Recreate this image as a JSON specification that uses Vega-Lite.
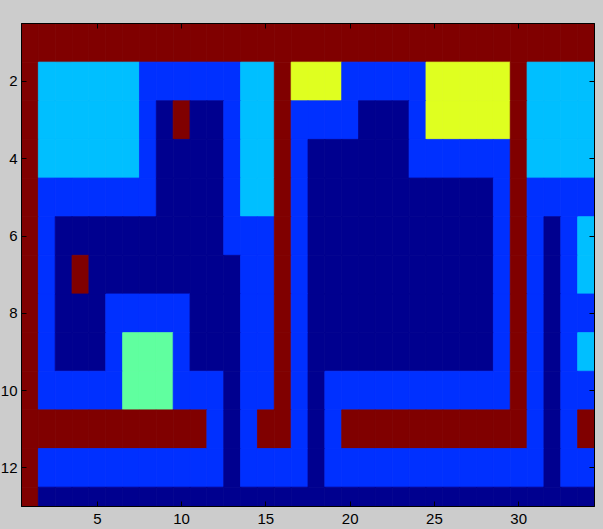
{
"$schema": "https://vega.github.io/schema/vega-lite/v6.json",
"width": 573, "height": 483,
"autosize": {"type": "none"},
"padding": {"left": 21, "top": 23, "right": 9, "bottom": 23},
"background": "#CCCCCC",
"config": {"view": {"stroke": "#000000", "strokeWidth": 1},
  "axis": {"title": null, "grid": false, "domain": true, "domainColor": "#000000", "tickColor": "#000000", "tickSize": -5, "labelFont": "Liberation Sans", "labelFontSize": 15, "labelColor": "#000000", "labelFlush": false, "labelOverlap": false}},
"data": {"values": [
{"r":1,"c":1,"v":"M"},{"r":1,"c":2,"v":"M"},{"r":1,"c":3,"v":"M"},{"r":1,"c":4,"v":"M"},{"r":1,"c":5,"v":"M"},{"r":1,"c":6,"v":"M"},{"r":1,"c":7,"v":"M"},{"r":1,"c":8,"v":"M"},{"r":1,"c":9,"v":"M"},{"r":1,"c":10,"v":"M"},{"r":1,"c":11,"v":"M"},{"r":1,"c":12,"v":"M"},{"r":1,"c":13,"v":"M"},{"r":1,"c":14,"v":"M"},{"r":1,"c":15,"v":"M"},{"r":1,"c":16,"v":"M"},{"r":1,"c":17,"v":"M"},{"r":1,"c":18,"v":"M"},{"r":1,"c":19,"v":"M"},{"r":1,"c":20,"v":"M"},{"r":1,"c":21,"v":"M"},{"r":1,"c":22,"v":"M"},{"r":1,"c":23,"v":"M"},{"r":1,"c":24,"v":"M"},{"r":1,"c":25,"v":"M"},{"r":1,"c":26,"v":"M"},{"r":1,"c":27,"v":"M"},{"r":1,"c":28,"v":"M"},{"r":1,"c":29,"v":"M"},{"r":1,"c":30,"v":"M"},{"r":1,"c":31,"v":"M"},{"r":1,"c":32,"v":"M"},{"r":1,"c":33,"v":"M"},{"r":1,"c":34,"v":"M"},
{"r":2,"c":1,"v":"M"},{"r":2,"c":2,"v":"C"},{"r":2,"c":3,"v":"C"},{"r":2,"c":4,"v":"C"},{"r":2,"c":5,"v":"C"},{"r":2,"c":6,"v":"C"},{"r":2,"c":7,"v":"C"},{"r":2,"c":8,"v":"B"},{"r":2,"c":9,"v":"B"},{"r":2,"c":10,"v":"B"},{"r":2,"c":11,"v":"B"},{"r":2,"c":12,"v":"B"},{"r":2,"c":13,"v":"B"},{"r":2,"c":14,"v":"C"},{"r":2,"c":15,"v":"C"},{"r":2,"c":16,"v":"M"},{"r":2,"c":17,"v":"Y"},{"r":2,"c":18,"v":"Y"},{"r":2,"c":19,"v":"Y"},{"r":2,"c":20,"v":"B"},{"r":2,"c":21,"v":"B"},{"r":2,"c":22,"v":"B"},{"r":2,"c":23,"v":"B"},{"r":2,"c":24,"v":"B"},{"r":2,"c":25,"v":"Y"},{"r":2,"c":26,"v":"Y"},{"r":2,"c":27,"v":"Y"},{"r":2,"c":28,"v":"Y"},{"r":2,"c":29,"v":"Y"},{"r":2,"c":30,"v":"M"},{"r":2,"c":31,"v":"C"},{"r":2,"c":32,"v":"C"},{"r":2,"c":33,"v":"C"},{"r":2,"c":34,"v":"C"},
{"r":3,"c":1,"v":"M"},{"r":3,"c":2,"v":"C"},{"r":3,"c":3,"v":"C"},{"r":3,"c":4,"v":"C"},{"r":3,"c":5,"v":"C"},{"r":3,"c":6,"v":"C"},{"r":3,"c":7,"v":"C"},{"r":3,"c":8,"v":"B"},{"r":3,"c":9,"v":"N"},{"r":3,"c":10,"v":"M"},{"r":3,"c":11,"v":"N"},{"r":3,"c":12,"v":"N"},{"r":3,"c":13,"v":"B"},{"r":3,"c":14,"v":"C"},{"r":3,"c":15,"v":"C"},{"r":3,"c":16,"v":"M"},{"r":3,"c":17,"v":"B"},{"r":3,"c":18,"v":"B"},{"r":3,"c":19,"v":"B"},{"r":3,"c":20,"v":"B"},{"r":3,"c":21,"v":"N"},{"r":3,"c":22,"v":"N"},{"r":3,"c":23,"v":"N"},{"r":3,"c":24,"v":"B"},{"r":3,"c":25,"v":"Y"},{"r":3,"c":26,"v":"Y"},{"r":3,"c":27,"v":"Y"},{"r":3,"c":28,"v":"Y"},{"r":3,"c":29,"v":"Y"},{"r":3,"c":30,"v":"M"},{"r":3,"c":31,"v":"C"},{"r":3,"c":32,"v":"C"},{"r":3,"c":33,"v":"C"},{"r":3,"c":34,"v":"C"},
{"r":4,"c":1,"v":"M"},{"r":4,"c":2,"v":"C"},{"r":4,"c":3,"v":"C"},{"r":4,"c":4,"v":"C"},{"r":4,"c":5,"v":"C"},{"r":4,"c":6,"v":"C"},{"r":4,"c":7,"v":"C"},{"r":4,"c":8,"v":"B"},{"r":4,"c":9,"v":"N"},{"r":4,"c":10,"v":"N"},{"r":4,"c":11,"v":"N"},{"r":4,"c":12,"v":"N"},{"r":4,"c":13,"v":"B"},{"r":4,"c":14,"v":"C"},{"r":4,"c":15,"v":"C"},{"r":4,"c":16,"v":"M"},{"r":4,"c":17,"v":"B"},{"r":4,"c":18,"v":"N"},{"r":4,"c":19,"v":"N"},{"r":4,"c":20,"v":"N"},{"r":4,"c":21,"v":"N"},{"r":4,"c":22,"v":"N"},{"r":4,"c":23,"v":"N"},{"r":4,"c":24,"v":"B"},{"r":4,"c":25,"v":"B"},{"r":4,"c":26,"v":"B"},{"r":4,"c":27,"v":"B"},{"r":4,"c":28,"v":"B"},{"r":4,"c":29,"v":"B"},{"r":4,"c":30,"v":"M"},{"r":4,"c":31,"v":"C"},{"r":4,"c":32,"v":"C"},{"r":4,"c":33,"v":"C"},{"r":4,"c":34,"v":"C"},
{"r":5,"c":1,"v":"M"},{"r":5,"c":2,"v":"B"},{"r":5,"c":3,"v":"B"},{"r":5,"c":4,"v":"B"},{"r":5,"c":5,"v":"B"},{"r":5,"c":6,"v":"B"},{"r":5,"c":7,"v":"B"},{"r":5,"c":8,"v":"B"},{"r":5,"c":9,"v":"N"},{"r":5,"c":10,"v":"N"},{"r":5,"c":11,"v":"N"},{"r":5,"c":12,"v":"N"},{"r":5,"c":13,"v":"B"},{"r":5,"c":14,"v":"C"},{"r":5,"c":15,"v":"C"},{"r":5,"c":16,"v":"M"},{"r":5,"c":17,"v":"B"},{"r":5,"c":18,"v":"N"},{"r":5,"c":19,"v":"N"},{"r":5,"c":20,"v":"N"},{"r":5,"c":21,"v":"N"},{"r":5,"c":22,"v":"N"},{"r":5,"c":23,"v":"N"},{"r":5,"c":24,"v":"N"},{"r":5,"c":25,"v":"N"},{"r":5,"c":26,"v":"N"},{"r":5,"c":27,"v":"N"},{"r":5,"c":28,"v":"N"},{"r":5,"c":29,"v":"B"},{"r":5,"c":30,"v":"M"},{"r":5,"c":31,"v":"B"},{"r":5,"c":32,"v":"B"},{"r":5,"c":33,"v":"B"},{"r":5,"c":34,"v":"B"},
{"r":6,"c":1,"v":"M"},{"r":6,"c":2,"v":"B"},{"r":6,"c":3,"v":"N"},{"r":6,"c":4,"v":"N"},{"r":6,"c":5,"v":"N"},{"r":6,"c":6,"v":"N"},{"r":6,"c":7,"v":"N"},{"r":6,"c":8,"v":"N"},{"r":6,"c":9,"v":"N"},{"r":6,"c":10,"v":"N"},{"r":6,"c":11,"v":"N"},{"r":6,"c":12,"v":"N"},{"r":6,"c":13,"v":"B"},{"r":6,"c":14,"v":"B"},{"r":6,"c":15,"v":"B"},{"r":6,"c":16,"v":"M"},{"r":6,"c":17,"v":"B"},{"r":6,"c":18,"v":"N"},{"r":6,"c":19,"v":"N"},{"r":6,"c":20,"v":"N"},{"r":6,"c":21,"v":"N"},{"r":6,"c":22,"v":"N"},{"r":6,"c":23,"v":"N"},{"r":6,"c":24,"v":"N"},{"r":6,"c":25,"v":"N"},{"r":6,"c":26,"v":"N"},{"r":6,"c":27,"v":"N"},{"r":6,"c":28,"v":"N"},{"r":6,"c":29,"v":"B"},{"r":6,"c":30,"v":"M"},{"r":6,"c":31,"v":"B"},{"r":6,"c":32,"v":"N"},{"r":6,"c":33,"v":"B"},{"r":6,"c":34,"v":"C"},
{"r":7,"c":1,"v":"M"},{"r":7,"c":2,"v":"B"},{"r":7,"c":3,"v":"N"},{"r":7,"c":4,"v":"M"},{"r":7,"c":5,"v":"N"},{"r":7,"c":6,"v":"N"},{"r":7,"c":7,"v":"N"},{"r":7,"c":8,"v":"N"},{"r":7,"c":9,"v":"N"},{"r":7,"c":10,"v":"N"},{"r":7,"c":11,"v":"N"},{"r":7,"c":12,"v":"N"},{"r":7,"c":13,"v":"N"},{"r":7,"c":14,"v":"B"},{"r":7,"c":15,"v":"B"},{"r":7,"c":16,"v":"M"},{"r":7,"c":17,"v":"B"},{"r":7,"c":18,"v":"N"},{"r":7,"c":19,"v":"N"},{"r":7,"c":20,"v":"N"},{"r":7,"c":21,"v":"N"},{"r":7,"c":22,"v":"N"},{"r":7,"c":23,"v":"N"},{"r":7,"c":24,"v":"N"},{"r":7,"c":25,"v":"N"},{"r":7,"c":26,"v":"N"},{"r":7,"c":27,"v":"N"},{"r":7,"c":28,"v":"N"},{"r":7,"c":29,"v":"B"},{"r":7,"c":30,"v":"M"},{"r":7,"c":31,"v":"B"},{"r":7,"c":32,"v":"N"},{"r":7,"c":33,"v":"B"},{"r":7,"c":34,"v":"C"},
{"r":8,"c":1,"v":"M"},{"r":8,"c":2,"v":"B"},{"r":8,"c":3,"v":"N"},{"r":8,"c":4,"v":"N"},{"r":8,"c":5,"v":"N"},{"r":8,"c":6,"v":"B"},{"r":8,"c":7,"v":"B"},{"r":8,"c":8,"v":"B"},{"r":8,"c":9,"v":"B"},{"r":8,"c":10,"v":"B"},{"r":8,"c":11,"v":"N"},{"r":8,"c":12,"v":"N"},{"r":8,"c":13,"v":"N"},{"r":8,"c":14,"v":"B"},{"r":8,"c":15,"v":"B"},{"r":8,"c":16,"v":"M"},{"r":8,"c":17,"v":"B"},{"r":8,"c":18,"v":"N"},{"r":8,"c":19,"v":"N"},{"r":8,"c":20,"v":"N"},{"r":8,"c":21,"v":"N"},{"r":8,"c":22,"v":"N"},{"r":8,"c":23,"v":"N"},{"r":8,"c":24,"v":"N"},{"r":8,"c":25,"v":"N"},{"r":8,"c":26,"v":"N"},{"r":8,"c":27,"v":"N"},{"r":8,"c":28,"v":"N"},{"r":8,"c":29,"v":"B"},{"r":8,"c":30,"v":"M"},{"r":8,"c":31,"v":"B"},{"r":8,"c":32,"v":"N"},{"r":8,"c":33,"v":"B"},{"r":8,"c":34,"v":"B"},
{"r":9,"c":1,"v":"M"},{"r":9,"c":2,"v":"B"},{"r":9,"c":3,"v":"N"},{"r":9,"c":4,"v":"N"},{"r":9,"c":5,"v":"N"},{"r":9,"c":6,"v":"B"},{"r":9,"c":7,"v":"G"},{"r":9,"c":8,"v":"G"},{"r":9,"c":9,"v":"G"},{"r":9,"c":10,"v":"B"},{"r":9,"c":11,"v":"N"},{"r":9,"c":12,"v":"N"},{"r":9,"c":13,"v":"N"},{"r":9,"c":14,"v":"B"},{"r":9,"c":15,"v":"B"},{"r":9,"c":16,"v":"M"},{"r":9,"c":17,"v":"B"},{"r":9,"c":18,"v":"N"},{"r":9,"c":19,"v":"N"},{"r":9,"c":20,"v":"N"},{"r":9,"c":21,"v":"N"},{"r":9,"c":22,"v":"N"},{"r":9,"c":23,"v":"N"},{"r":9,"c":24,"v":"N"},{"r":9,"c":25,"v":"N"},{"r":9,"c":26,"v":"N"},{"r":9,"c":27,"v":"N"},{"r":9,"c":28,"v":"N"},{"r":9,"c":29,"v":"B"},{"r":9,"c":30,"v":"M"},{"r":9,"c":31,"v":"B"},{"r":9,"c":32,"v":"N"},{"r":9,"c":33,"v":"B"},{"r":9,"c":34,"v":"C"},
{"r":10,"c":1,"v":"M"},{"r":10,"c":2,"v":"B"},{"r":10,"c":3,"v":"B"},{"r":10,"c":4,"v":"B"},{"r":10,"c":5,"v":"B"},{"r":10,"c":6,"v":"B"},{"r":10,"c":7,"v":"G"},{"r":10,"c":8,"v":"G"},{"r":10,"c":9,"v":"G"},{"r":10,"c":10,"v":"B"},{"r":10,"c":11,"v":"B"},{"r":10,"c":12,"v":"B"},{"r":10,"c":13,"v":"N"},{"r":10,"c":14,"v":"B"},{"r":10,"c":15,"v":"B"},{"r":10,"c":16,"v":"M"},{"r":10,"c":17,"v":"B"},{"r":10,"c":18,"v":"N"},{"r":10,"c":19,"v":"B"},{"r":10,"c":20,"v":"B"},{"r":10,"c":21,"v":"B"},{"r":10,"c":22,"v":"B"},{"r":10,"c":23,"v":"B"},{"r":10,"c":24,"v":"B"},{"r":10,"c":25,"v":"B"},{"r":10,"c":26,"v":"B"},{"r":10,"c":27,"v":"B"},{"r":10,"c":28,"v":"B"},{"r":10,"c":29,"v":"B"},{"r":10,"c":30,"v":"M"},{"r":10,"c":31,"v":"B"},{"r":10,"c":32,"v":"N"},{"r":10,"c":33,"v":"B"},{"r":10,"c":34,"v":"B"},
{"r":11,"c":1,"v":"M"},{"r":11,"c":2,"v":"M"},{"r":11,"c":3,"v":"M"},{"r":11,"c":4,"v":"M"},{"r":11,"c":5,"v":"M"},{"r":11,"c":6,"v":"M"},{"r":11,"c":7,"v":"M"},{"r":11,"c":8,"v":"M"},{"r":11,"c":9,"v":"M"},{"r":11,"c":10,"v":"M"},{"r":11,"c":11,"v":"M"},{"r":11,"c":12,"v":"B"},{"r":11,"c":13,"v":"N"},{"r":11,"c":14,"v":"B"},{"r":11,"c":15,"v":"M"},{"r":11,"c":16,"v":"M"},{"r":11,"c":17,"v":"B"},{"r":11,"c":18,"v":"N"},{"r":11,"c":19,"v":"B"},{"r":11,"c":20,"v":"M"},{"r":11,"c":21,"v":"M"},{"r":11,"c":22,"v":"M"},{"r":11,"c":23,"v":"M"},{"r":11,"c":24,"v":"M"},{"r":11,"c":25,"v":"M"},{"r":11,"c":26,"v":"M"},{"r":11,"c":27,"v":"M"},{"r":11,"c":28,"v":"M"},{"r":11,"c":29,"v":"M"},{"r":11,"c":30,"v":"M"},{"r":11,"c":31,"v":"B"},{"r":11,"c":32,"v":"N"},{"r":11,"c":33,"v":"B"},{"r":11,"c":34,"v":"M"},
{"r":12,"c":1,"v":"M"},{"r":12,"c":2,"v":"B"},{"r":12,"c":3,"v":"B"},{"r":12,"c":4,"v":"B"},{"r":12,"c":5,"v":"B"},{"r":12,"c":6,"v":"B"},{"r":12,"c":7,"v":"B"},{"r":12,"c":8,"v":"B"},{"r":12,"c":9,"v":"B"},{"r":12,"c":10,"v":"B"},{"r":12,"c":11,"v":"B"},{"r":12,"c":12,"v":"B"},{"r":12,"c":13,"v":"N"},{"r":12,"c":14,"v":"B"},{"r":12,"c":15,"v":"B"},{"r":12,"c":16,"v":"B"},{"r":12,"c":17,"v":"B"},{"r":12,"c":18,"v":"N"},{"r":12,"c":19,"v":"B"},{"r":12,"c":20,"v":"B"},{"r":12,"c":21,"v":"B"},{"r":12,"c":22,"v":"B"},{"r":12,"c":23,"v":"B"},{"r":12,"c":24,"v":"B"},{"r":12,"c":25,"v":"B"},{"r":12,"c":26,"v":"B"},{"r":12,"c":27,"v":"B"},{"r":12,"c":28,"v":"B"},{"r":12,"c":29,"v":"B"},{"r":12,"c":30,"v":"B"},{"r":12,"c":31,"v":"B"},{"r":12,"c":32,"v":"N"},{"r":12,"c":33,"v":"B"},{"r":12,"c":34,"v":"B"},
{"r":13,"c":1,"v":"M"},{"r":13,"c":2,"v":"N"},{"r":13,"c":3,"v":"N"},{"r":13,"c":4,"v":"N"},{"r":13,"c":5,"v":"N"},{"r":13,"c":6,"v":"N"},{"r":13,"c":7,"v":"N"},{"r":13,"c":8,"v":"N"},{"r":13,"c":9,"v":"N"},{"r":13,"c":10,"v":"N"},{"r":13,"c":11,"v":"N"},{"r":13,"c":12,"v":"N"},{"r":13,"c":13,"v":"N"},{"r":13,"c":14,"v":"N"},{"r":13,"c":15,"v":"N"},{"r":13,"c":16,"v":"N"},{"r":13,"c":17,"v":"N"},{"r":13,"c":18,"v":"N"},{"r":13,"c":19,"v":"N"},{"r":13,"c":20,"v":"N"},{"r":13,"c":21,"v":"N"},{"r":13,"c":22,"v":"N"},{"r":13,"c":23,"v":"N"},{"r":13,"c":24,"v":"N"},{"r":13,"c":25,"v":"N"},{"r":13,"c":26,"v":"N"},{"r":13,"c":27,"v":"N"},{"r":13,"c":28,"v":"N"},{"r":13,"c":29,"v":"N"},{"r":13,"c":30,"v":"N"},{"r":13,"c":31,"v":"N"},{"r":13,"c":32,"v":"N"},{"r":13,"c":33,"v":"N"},{"r":13,"c":34,"v":"N"}
]},
"layer": [
 {"mark": {"type": "rect", "clip": true, "strokeWidth": 0.8},
  "encoding": {
   "x": {"field": "c", "type": "quantitative", "bin": {"anchor": 0.5, "step": 1, "extent": [0.5, 34.5], "nice": false},
         "scale": {"domain": [0.5, 34.5], "nice": false, "zero": false},
         "axis": {"orient": "bottom", "values": [5, 10, 15, 20, 25, 30], "labelPadding": 10}},
   "y": {"field": "r", "type": "quantitative", "bin": {"anchor": 0.5, "step": 1, "extent": [0.5, 13.5], "nice": false},
         "scale": {"domain": [0.5, 13], "nice": false, "zero": false, "reverse": true},
         "axis": {"orient": "left", "values": [2, 4, 6, 8, 10, 12], "labelPadding": 9}},
   "color": {"field": "v", "type": "nominal",
             "scale": {"domain": ["N", "B", "C", "G", "Y", "M"], "range": ["#00008F", "#0030FF", "#00BFFF", "#60FF9F", "#DFFF20", "#800000"]},
             "legend": null},
   "stroke": {"field": "v", "type": "nominal",
             "scale": {"domain": ["N", "B", "C", "G", "Y", "M"], "range": ["#00008F", "#0030FF", "#00BFFF", "#60FF9F", "#DFFF20", "#800000"]},
             "legend": null}
  }},
 {"mark": {"type": "rect", "clip": true, "opacity": 0},
  "encoding": {
   "x": {"field": "c", "type": "quantitative", "bin": {"anchor": 0.5, "step": 1, "extent": [0.5, 34.5], "nice": false},
         "scale": {"domain": [0.5, 34.5], "nice": false, "zero": false},
         "axis": {"orient": "top", "values": [5, 10, 15, 20, 25, 30], "labels": false}},
   "y": {"field": "r", "type": "quantitative", "bin": {"anchor": 0.5, "step": 1, "extent": [0.5, 13.5], "nice": false},
         "scale": {"domain": [0.5, 13], "nice": false, "zero": false, "reverse": true},
         "axis": {"orient": "right", "values": [2, 4, 6, 8, 10, 12], "labels": false}}
  }}
],
"resolve": {"axis": {"x": "independent", "y": "independent"}}
}
